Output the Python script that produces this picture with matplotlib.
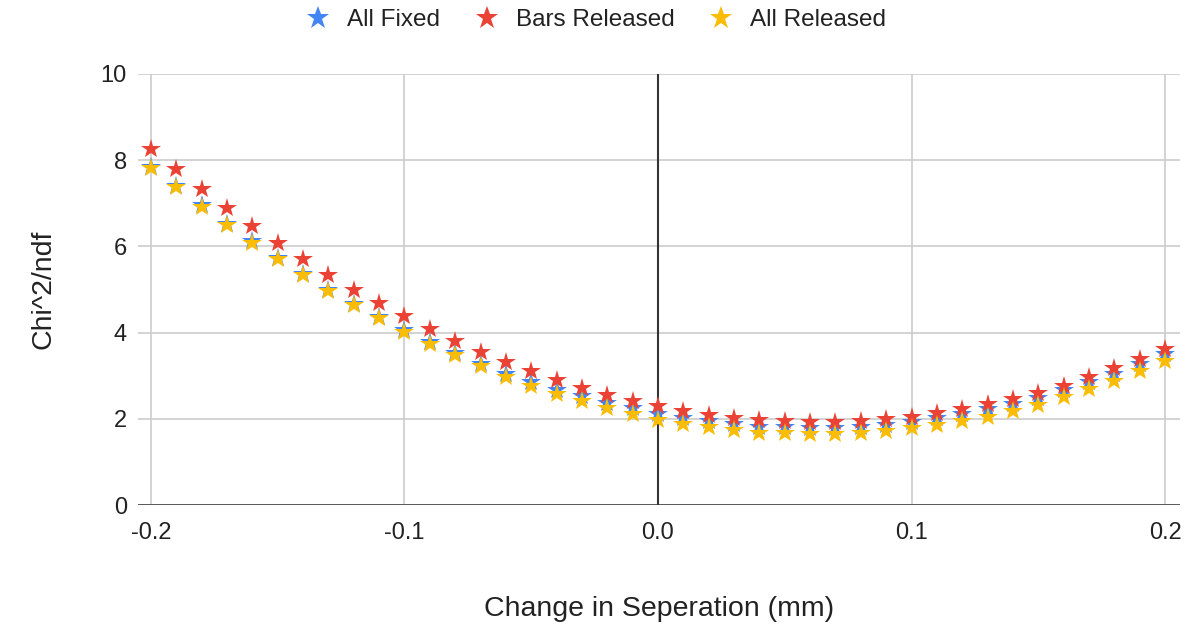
import matplotlib
matplotlib.use("Agg")
import matplotlib.pyplot as plt
from matplotlib.lines import Line2D

plt.rcParams['font.family'] = ['Liberation Sans', 'DejaVu Sans']

# Data
separation = [-0.20, -0.19, -0.18, -0.17, -0.16, -0.15, -0.14, -0.13, -0.12, -0.11,
              -0.10, -0.09, -0.08, -0.07, -0.06, -0.05, -0.04, -0.03, -0.02, -0.01,
              0.00, 0.01, 0.02, 0.03, 0.04, 0.05, 0.06, 0.07, 0.08, 0.09,
              0.10, 0.11, 0.12, 0.13, 0.14, 0.15, 0.16, 0.17, 0.18, 0.19, 0.20]

all_fixed = [7.85, 7.40, 6.95, 6.52, 6.12, 5.73, 5.36, 5.00, 4.67, 4.36,
             4.06, 3.78, 3.52, 3.28, 3.05, 2.85, 2.67, 2.52, 2.37, 2.24,
             2.11, 2.03, 1.94, 1.87, 1.82, 1.80, 1.78, 1.78, 1.80, 1.85,
             1.93, 2.02, 2.11, 2.22, 2.34, 2.49, 2.67, 2.85, 3.05, 3.27, 3.51]

bars_released = [8.27, 7.80, 7.34, 6.90, 6.47, 6.07, 5.70, 5.34, 4.99, 4.68,
                 4.38, 4.08, 3.80, 3.56, 3.32, 3.11, 2.91, 2.72, 2.56, 2.41,
                 2.29, 2.17, 2.09, 2.01, 1.97, 1.94, 1.92, 1.92, 1.94, 1.99,
                 2.05, 2.13, 2.23, 2.34, 2.46, 2.60, 2.77, 2.96, 3.17, 3.38, 3.62]

all_released = [7.82, 7.37, 6.92, 6.49, 6.09, 5.70, 5.33, 4.97, 4.64, 4.33,
                4.02, 3.74, 3.47, 3.22, 2.98, 2.77, 2.58, 2.42, 2.26, 2.12,
                1.98, 1.89, 1.80, 1.73, 1.68, 1.66, 1.64, 1.64, 1.66, 1.71,
                1.78, 1.86, 1.95, 2.05, 2.17, 2.32, 2.50, 2.68, 2.88, 3.10, 3.34]

series = [
    ("All Fixed", all_fixed, "#4285F4"),
    ("Bars Released", bars_released, "#EA4335"),
    ("All Released", all_released, "#FBBC04"),
]

W, H = 1192, 626
fig = plt.figure(figsize=(W / 100, H / 100), dpi=100)
left, right, top, bottom = 138, 1180, 74, 505
ax = fig.add_axes([left / W, (H - bottom) / H, (right - left) / W, (bottom - top) / H])

for name, vals, col in series:
    ax.plot(separation, vals, linestyle='none', marker='*', markersize=15,
            color=col, markeredgewidth=0, label=name, zorder=3)

ax.set_xlim(-0.2051, 0.2059)
ax.set_ylim(0, 10)
ax.set_xticks([-0.2, -0.1, 0.0, 0.1, 0.2])
ax.set_xticklabels(["-0.2", "-0.1", "0.0", "0.1", "0.2"])
ax.set_yticks([0, 2, 4, 6, 8, 10])
ax.set_axisbelow(True)
ax.grid(True, color='#cccccc', linewidth=1.2)
ax.axvline(0, color='#333333', linewidth=1.5, zorder=2)
ax.axhline(0, color='#333333', linewidth=1.8, zorder=2)
for s in ax.spines.values():
    s.set_visible(False)
ax.tick_params(length=0, labelsize=17, colors='#222222')
ax.tick_params(axis='x', pad=12)
ax.tick_params(axis='y', pad=8)

ax.set_xlabel("Change in Seperation (mm)", fontsize=20.5, color='#222222', labelpad=38)
ax.set_ylabel("Chi^2/ndf", fontsize=20.5, color='#222222', labelpad=32)

handles = [Line2D([], [], linestyle='none', marker='*', markersize=17,
                  color=c, markeredgewidth=0) for _, _, c in series]
fig.legend(handles, [n for n, _, _ in series], loc='upper center',
           bbox_to_anchor=(0.5, 1.02), ncol=3, frameon=False, fontsize=17.5,
           handlelength=1.0, handletextpad=0.7, columnspacing=1.42,
           labelcolor='#222222')

fig.savefig("out.png", dpi=100, facecolor='white')
